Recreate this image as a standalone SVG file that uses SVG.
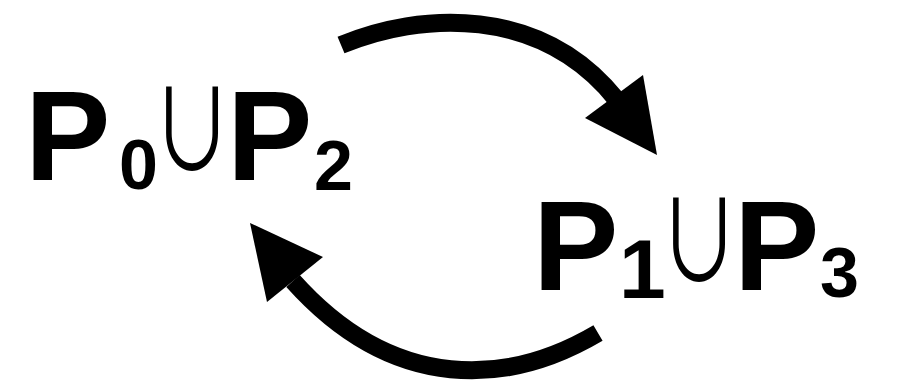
<svg xmlns="http://www.w3.org/2000/svg" width="903" height="390" viewBox="0 0 903 390">
  <style>
    .big { font-family: "Liberation Sans", Arial, sans-serif; font-weight: bold; font-size: 128px; fill: #000; }
    .sub { font-family: "Liberation Sans", Arial, sans-serif; font-weight: bold; font-size: 70px; fill: #000; }
    .cup { font-family: "Noto Sans CJK SC", "DejaVu Sans", sans-serif; font-weight: 400; font-size: 112px; fill: #000; }
    .link { fill: none; stroke: #000; stroke-width: 18; stroke-linecap: butt; }
    .head { fill: #000; stroke: none; }
  </style>
  <rect width="903" height="390" fill="#fff"/>

  <g id="node-p0-p2">
    <text class="big" x="25" y="180">P</text>
    <text class="sub" x="119" y="189">0</text>
    <text class="cup" transform="translate(168,0) scale(0.72,1)" x="-22.4" y="171">∪</text>
    <text class="big" x="227" y="180">P</text>
    <text class="sub" x="314" y="190">2</text>
  </g>

  <g id="node-p1-p3">
    <text class="big" x="533" y="290">P</text>
    <text class="sub" x="619" y="298" style="font-size:84px">1</text>
    <text class="cup" transform="translate(675,0) scale(0.72,1)" x="-22.4" y="282">∪</text>
    <text class="big" x="734" y="290">P</text>
    <text class="sub" x="820" y="297">3</text>
  </g>

  <g id="connectors">
    <path class="link" d="M341,45 C420,12 540,5 616,99"/>
    <polygon class="head" points="657,155 585,118 643,75"/>
    <path class="link" d="M598,333 C510,385 395,395 293,281"/>
    <polygon class="head" points="250,223 267,302 323,257"/>
  </g>
</svg>
